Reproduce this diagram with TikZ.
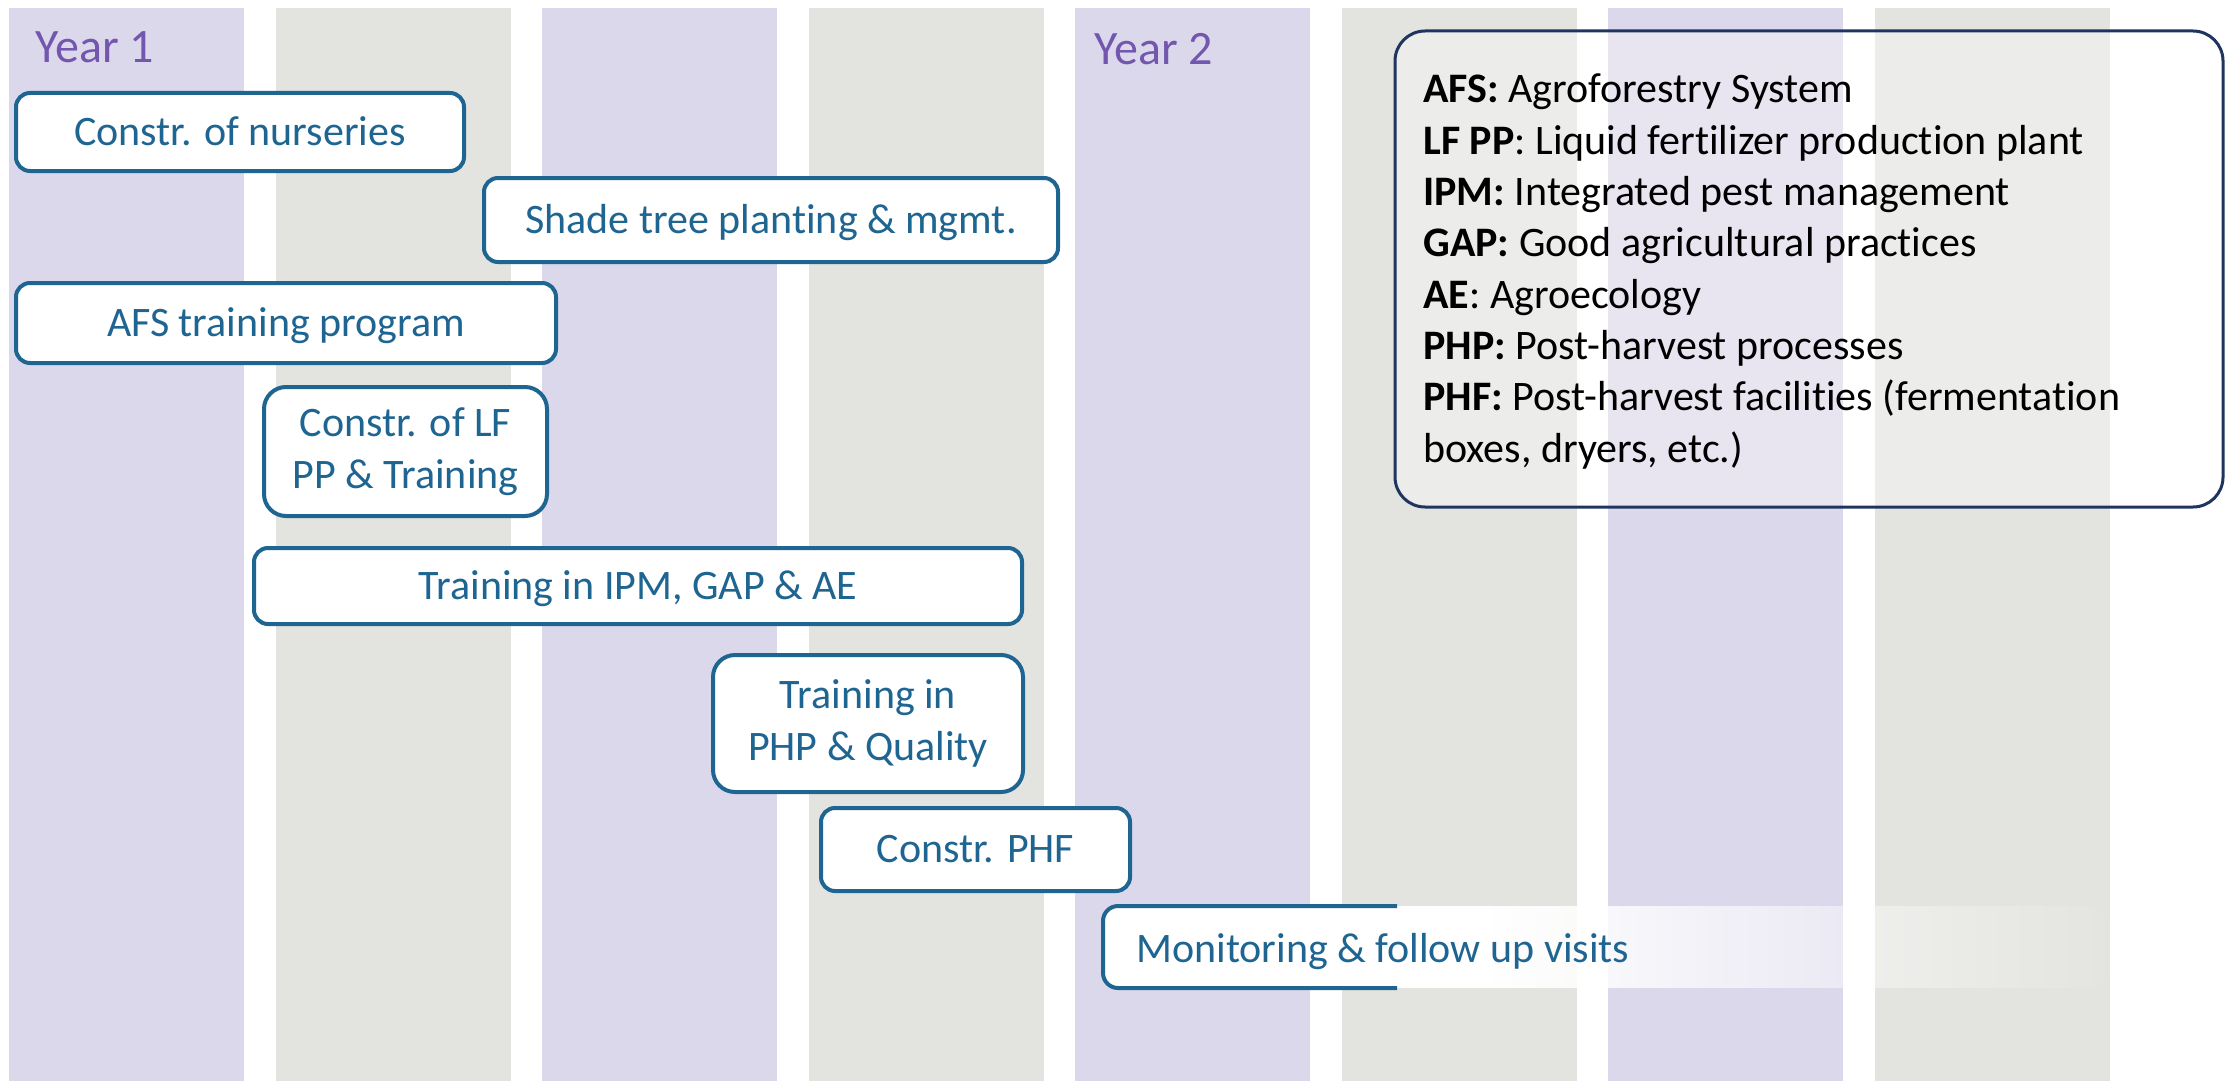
\documentclass[tikz,border=0pt]{standalone}
\usepackage{fontspec}
\setmainfont{Carlito}[Ligatures={NoCommon}]
\usetikzlibrary{fadings}
\definecolor{stripP}{HTML}{DCD8EB}
\definecolor{stripG}{HTML}{E3E4DF}
\definecolor{boxblue}{HTML}{1F6592}
\definecolor{yearpurple}{HTML}{7356AE}
\definecolor{navy}{HTML}{1F3560}
\tikzfading[name=monofade, left color=transparent!0, right color=transparent!100]
\begin{document}
\begin{tikzpicture}[x=0.5pt,y=-0.5pt,
  taskbox/.style={draw=boxblue, line width=2pt, fill=white, text=boxblue,
    font=\fontsize{21}{26}\selectfont, align=center, inner sep=0pt, rounded corners=7pt},
  oneline/.style={text height=15.75pt, text depth=2.48pt},
  yearlbl/.style={text=yearpurple, font=\fontsize{24}{29}\selectfont, inner sep=0pt, anchor=base west},
  legtext/.style={font=\fontsize{21}{25}\selectfont, inner sep=0pt, anchor=base west, text=black}]
\useasboundingbox (0,0) rectangle (2225,1081);
% stripes
\foreach \i in {0,2,4,6} \fill[stripP] ({9+266.5*\i},8) rectangle ({244+266.5*\i},1081);
\foreach \i in {1,3,5,7} \fill[stripG] ({9+266.5*\i},8) rectangle ({244+266.5*\i},1081);
% year labels
\node[yearlbl] (y1) at (35,63) {Year 1};
\node[yearlbl] (y2) at (1094,65) {Year 2};
% task boxes
\node[taskbox, oneline, minimum width=224pt, minimum height=39pt] (nurs) at (240,132) {Constr. of nurseries};
\node[taskbox, oneline, minimum width=287pt, minimum height=42pt] (shade) at (771,220) {Shade tree planting \& mgmt.};
\node[taskbox, oneline, minimum width=270pt, minimum height=40pt] (afs) at (286,323) {AFS training program};
\node[taskbox, rounded corners=11pt, minimum width=141.5pt, minimum height=64.5pt] (lf) at (405.5,451.5) {Constr. of LF\\PP \& Training};
\node[taskbox, oneline, minimum width=384pt, minimum height=38pt] (ipm) at (638,586) {Training in IPM, GAP \& AE};
\node[taskbox, rounded corners=11pt, minimum width=155pt, minimum height=68.5pt] (php) at (868,723.5) {Training in\\PHP \& Quality};
\node[taskbox, oneline, minimum width=154.5pt, minimum height=41.5pt] (phf) at (975.5,849.5) {Constr. PHF};
% monitoring (fading box)
\begin{scope}
  \clip[rounded corners=7pt] (1103,906) rectangle (2105,988);
  \fill[white] (1103,906) rectangle (1492,988);
  \fill[white, path fading=monofade, fit fading=true] (1490,906) rectangle (2135,988);
\end{scope}
\draw[boxblue, line width=2pt, rounded corners=7.5pt] (1397,906) -- (1103,906) -- (1103,988) -- (1397,988);
\node[anchor=base west, inner sep=0pt, text=boxblue, font=\fontsize{21}{25}\selectfont] (mon) at (1136,962) {Monitoring \& follow up visits};
% legend
\node[draw=navy, line width=1.5pt, fill=white, fill opacity=0.35, draw opacity=1, rounded corners=15pt,
  minimum width=414pt, minimum height=238pt, inner sep=0pt] (legend) at (1809,269) {};
\node[legtext] (l1) at (1423,103) {\textbf{AFS:} Agroforestry System};
\node[legtext] (l2) at (1423,154.3) {\textbf{LF PP}: Liquid fertilizer production plant};
\node[legtext] (l3) at (1423,205.6) {\textbf{IPM:} Integrated pest management};
\node[legtext] (l4) at (1423,256.9) {\textbf{GAP:} Good agricultural practices};
\node[legtext] (l5) at (1423,308.2) {\textbf{AE}: Agroecology};
\node[legtext] (l6) at (1423,359.5) {\textbf{PHP:} Post-harvest processes};
\node[legtext] (l7) at (1423,410.8) {\textbf{PHF:} Post-harvest facilities (fermentation};
\node[legtext] (l8) at (1423,462.1) {boxes, dryers, etc.)};
\end{tikzpicture}
\end{document}
